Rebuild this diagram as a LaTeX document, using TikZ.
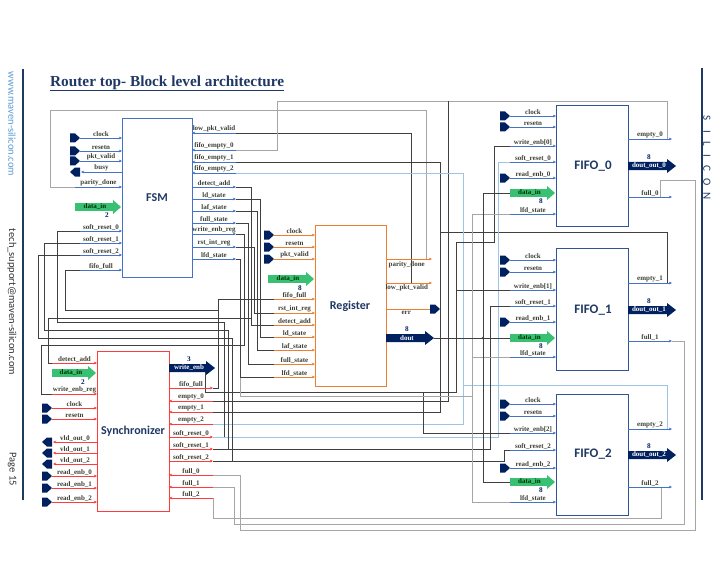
\documentclass[tikz,border=0pt]{standalone}
\usepackage{fontspec}
\setmainfont{Liberation Serif}
\newfontfamily\carl{Carlito}
\usetikzlibrary{arrows.meta}
\definecolor{navy}{HTML}{1F3864}
\definecolor{portc}{HTML}{002060}
\definecolor{fsmc}{HTML}{4472C4}
\definecolor{regc}{HTML}{ED7D31}
\definecolor{syncc}{HTML}{FF3B3B}
\definecolor{fifoc}{HTML}{2F5597}
\definecolor{fifol}{HTML}{4472C4}
\definecolor{wblk}{HTML}{404040}
\definecolor{wgry}{HTML}{A6A6A6}
\definecolor{wlb}{HTML}{9DC3E6}
\definecolor{lblc}{HTML}{3F3F35}
\definecolor{gfill}{HTML}{38C172}
\definecolor{linkc}{HTML}{5B9BD5}
\tikzset{
  lbl/.style={font=\fontsize{7}{8}\selectfont\bfseries, text=lblc, inner sep=0.7pt},
  numlbl/.style={font=\fontsize{7.2}{8}\selectfont\bfseries, text=portc, inner sep=0},
  stubln/.style={line width=0.6pt},
  tip/.style={-{Stealth[length=3.2pt,width=2.8pt]}},
  wire/.style={line width=0.5pt, draw=wblk},
  wireg/.style={line width=0.5pt, draw=wgry},
  wirelb/.style={line width=0.6pt, draw=wlb},
  blk/.style={line width=0.9pt, inner sep=0, anchor=north west},
  btitle/.style={font=\carl\bfseries\fontsize{12}{14}\selectfont, text=navy},
  ftitle/.style={font=\carl\bfseries\fontsize{13}{15}\selectfont, text=navy},
  side/.style={font=\carl\fontsize{10.5}{12}\selectfont, rotate=-90, inner sep=0},
}
\newcommand\stub[5]{\draw[#1,stubln,tip] (#2,#4) -- (#3,#4) node[midway,above,lbl]{#5};}
\newcommand\portR[2]{\fill[portc] (#1,#2-4.5) -- (#1+5,#2-4.5) -- (#1+10,#2) -- (#1+5,#2+4.5) -- (#1,#2+4.5) -- cycle;}
\newcommand\portL[2]{\fill[portc] (#1,#2-4.5) -- (#1-5,#2-4.5) -- (#1-10,#2) -- (#1-5,#2+4.5) -- (#1,#2+4.5) -- cycle;}
\newcommand\garrow[3]{\fill[gfill] (#1,#3-3.8) -- (#2-8,#3-3.8) -- (#2-8,#3-7) -- (#2,#3) -- (#2-8,#3+7) -- (#2-8,#3+3.8) -- (#1,#3+3.8) -- cycle;
  \node[lbl,text=black!80!green] at ({(#1+#2)/2-3},#3) {data\_in};}
\newcommand\barrow[5]{\fill[portc] (#1,#3-4) -- (#2-9,#3-4) -- (#2-9,#3-7) -- (#2,#3) -- (#2-9,#3+7) -- (#2-9,#3+4) -- (#1,#3+4) -- cycle;
  \node[lbl,text=white] at ({(#1+#2)/2-3},#3) {#4};
  \node[numlbl] at ({(#1+#2)/2-3},#3-9) {#5};}
\newcommand\nlab[3]{\node[numlbl] at (#1,#2) {#3};}
\begin{document}
\begin{tikzpicture}[x=1pt,y=-1pt]
\useasboundingbox[fill=white] (0,0) rectangle (711,564);

% page decorations
\draw[navy,line width=2.5pt] (23,69) -- (23,500);
\draw[navy,line width=2pt] (702,68) -- (702,500);
\node[side,text=linkc] (www) at (12,124) {www.maven-silicon.com};
\node[side,text=black!80] (tech) at (12,302) {tech\_support@maven-silicon.com};
\node[side,text=black!80] (page) at (12,469) {Page 15};
\foreach \l/\yy in {S/118,I/132,L/144,I/156,C/168,O/182,N/196}
  \node[font=\carl\fontsize{11}{12}\selectfont,text=navy,rotate=-90,inner sep=0] at (707,\yy) {\l};
\node[anchor=base west,font=\fontsize{15.3}{18}\selectfont\bfseries,text=navy,inner sep=0] (title) at (50,87) {Router top- Block level architecture};
\draw[navy,line width=0.8pt] (50,90.5) -- (title.east |- 0,90.5);

% ---------------- wires ----------------
\draw[wireg] (426,259) -- (426,110) -- (50,110) -- (50,187) -- (75,187);
\draw[wire] (411,283) -- (411,133) -- (236,133);
\draw[wireg] (667,139) -- (667,101) -- (277,101) -- (277,150) -- (236,150);
\draw[wire] (448,101) -- (448,401) -- (213,401);
\draw[wire] (667,283) -- (667,232) -- (440,232) -- (440,162) -- (236,162);
\draw[wire] (440,232) -- (440,412) -- (213,412);
\draw[wirelb] (667,429) -- (667,385) -- (463,385) -- (463,173) -- (236,173);
\draw[wirelb] (463,385) -- (463,424) -- (213,424);
\draw[wireg] (660,197) -- (660,180) -- (695,180) -- (695,530) -- (240,530) -- (240,475) -- (213,475);
\draw[wireg] (672,341) -- (684,341) -- (684,524) -- (234,524) -- (234,487) -- (213,487);
\draw[wireg] (661,487) -- (661,518) -- (213,518) -- (213,498);
\draw[wire] (213,388) -- (218,388) -- (218,299) -- (274,299);
\draw[wire] (218,310) -- (65,310) -- (65,270) -- (80,270);
\draw[wirelb] (213,437) -- (498,437) -- (498,162) -- (510,162);
\draw[wire] (224,437) -- (224,322) -- (57,322) -- (57,231) -- (80,231);
\draw[wire] (213,449) -- (490,449) -- (490,306) -- (510,306);
\draw[wire] (228,449) -- (228,330) -- (44,330) -- (44,243) -- (80,243);
\draw[wire] (213,461) -- (504,461) -- (504,450) -- (510,450);
\draw[wire] (232,461) -- (232,338) -- (38,338) -- (38,255) -- (80,255);
\draw[wire] (205,368) -- (205,392) -- (456,392) -- (456,290) -- (510,290);
\draw[wire] (423,392) -- (423,433) -- (510,433);
\draw[wire] (456,290) -- (456,242) -- (494,242) -- (494,146) -- (510,146);
\draw[wireg] (240,377) -- (240,396) -- (472,396) -- (472,214) -- (510,214);
\draw[wireg] (472,357) -- (510,357);
\draw[wireg] (472,396) -- (472,502) -- (510,502);
\draw[wire] (434,338) -- (510,338);
\draw[wire] (483,193) -- (510,193);
\draw[wire] (483,193) -- (483,482) -- (510,482);
\fill[wblk] (483,338) circle (1.4);
\draw[wire] (236,187) -- (251,187) -- (251,325) -- (274,325);
\draw[wire] (251,318) -- (48,318) -- (48,363) -- (52,363);
\draw[wire] (236,199) -- (260,199) -- (260,337) -- (274,337);
\draw[wire] (236,211) -- (257,211) -- (257,350) -- (274,350);
\draw[wire] (236,223) -- (248,223) -- (248,364) -- (274,364);
\draw[wire] (236,234) -- (244,234) -- (244,345) -- (41,345) -- (41,394) -- (52,394);
\draw[wire] (236,247) -- (254,247) -- (254,313) -- (274,313);
\draw[wire] (236,259) -- (240,259) -- (240,377) -- (274,377);

% ---------------- blocks ----------------
\node[blk,draw=fsmc,minimum width=70pt,minimum height=159pt] (fsm) at (122,118) {};
\node[btitle] (fsmt) at (157,198) {FSM};
\node[blk,draw=regc,minimum width=71pt,minimum height=161pt] (reg) at (315,225) {};
\node[btitle] (regt) at (350,306) {Register};
\node[blk,draw=syncc,line width=1.1pt,minimum width=72pt,minimum height=160pt] (sync) at (97,351) {};
\node[btitle] (synct) at (133,431) {Synchronizer};
\node[blk,draw=fifoc,minimum width=72pt,minimum height=121pt] (f0) at (556,105) {};
\node[ftitle] (f0t) at (593,166) {FIFO\_0};
\node[blk,draw=fifoc,minimum width=72pt,minimum height=122pt] (f1) at (556,248) {};
\node[ftitle] (f1t) at (593,310) {FIFO\_1};
\node[blk,draw=fifoc,minimum width=72pt,minimum height=121pt] (f2) at (556,394) {};
\node[ftitle] (f2t) at (593,454) {FIFO\_2};

% ---------------- FSM ports ----------------
\stub{fsmc}{80}{122}{138}{clock} \portR{70}{138}
\stub{fsmc}{80}{122}{151}{resetn} \portR{70}{151}
\stub{fsmc}{80}{122}{161}{pkt\_valid} \portR{70}{161}
\stub{fsmc}{122}{81}{172}{busy} \portL{80}{172}
\stub{fsmc}{75}{122}{187}{parity\_done}
\garrow{75}{121}{207} \nlab{107}{215}{2}
\stub{fsmc}{80}{122}{231}{soft\_reset\_0}
\stub{fsmc}{80}{122}{243}{soft\_reset\_1}
\stub{fsmc}{80}{122}{255}{soft\_reset\_2}
\stub{fsmc}{80}{122}{270}{fifo\_full}
\stub{fsmc}{236}{192}{133}{low\_pkt\_valid}
\stub{fsmc}{236}{192}{150}{fifo\_empty\_0}
\stub{fsmc}{236}{192}{162}{fifo\_empty\_1}
\stub{fsmc}{236}{192}{173}{fifo\_empty\_2}
\stub{fsmc}{192}{236}{187}{detect\_add}
\stub{fsmc}{192}{236}{199}{ld\_state}
\stub{fsmc}{192}{236}{211}{laf\_state}
\stub{fsmc}{192}{236}{223}{full\_state}
\stub{fsmc}{192}{236}{234}{write\_enb\_reg}
\stub{fsmc}{192}{236}{247}{rst\_int\_reg}
\stub{fsmc}{192}{236}{259}{lfd\_state}

% ---------------- Register ports ----------------
\stub{regc}{274}{315}{235}{clock} \portR{264}{235}
\stub{regc}{274}{315}{247}{resetn} \portR{264}{247}
\stub{regc}{274}{315}{259}{pkt\_valid} \portR{264}{259}
\garrow{268}{314}{279} \nlab{300}{288}{8}
\stub{regc}{274}{315}{299}{fifo\_full}
\stub{regc}{274}{315}{313}{rst\_int\_reg}
\stub{regc}{274}{315}{325}{detect\_add}
\stub{regc}{274}{315}{337}{ld\_state}
\stub{regc}{274}{315}{350}{laf\_state}
\stub{regc}{274}{315}{364}{full\_state}
\stub{regc}{274}{315}{377}{lfd\_state}
\draw[regc,stubln,tip] (386,259) -- (432,259) node[pos=0.45,below=2pt,lbl]{parity\_done};
\draw[regc,stubln,tip] (386,283) -- (432,283) node[pos=0.45,below=1pt,lbl]{low\_pkt\_valid};
\draw[regc,stubln] (386,309) -- (431,309) node[pos=0.45,below=1pt,lbl]{err};
\portR{430}{309}
\barrow{386}{434}{338}{dout}{8}

% ---------------- Synchronizer ports ----------------
\stub{syncc}{52}{97}{363}{detect\_add}
\garrow{52}{96}{373} \nlab{83}{382}{2}
\stub{syncc}{52}{97}{394}{write\_enb\_reg}
\stub{syncc}{52}{97}{408}{clock} \portR{42}{408}
\stub{syncc}{52}{97}{419}{resetn} \portR{42}{419}
\stub{syncc}{97}{53}{442}{vld\_out\_0} \portL{52}{442}
\stub{syncc}{97}{53}{453}{vld\_out\_1} \portL{52}{453}
\stub{syncc}{97}{53}{464}{vld\_out\_2} \portL{52}{464}
\stub{syncc}{52}{97}{476}{read\_enb\_0} \portR{42}{476}
\stub{syncc}{52}{97}{488}{read\_enb\_1} \portR{42}{488}
\stub{syncc}{52}{97}{502}{read\_enb\_2} \portR{42}{502}
\barrow{169}{215}{368}{write\_enb}{3}
\stub{syncc}{169}{213}{388}{fifo\_full}
\stub{syncc}{213}{169}{401}{empty\_0}
\stub{syncc}{213}{169}{412}{empty\_1}
\stub{syncc}{213}{169}{424}{empty\_2}
\stub{syncc}{169}{213}{437}{soft\_reset\_0}
\stub{syncc}{169}{213}{449}{soft\_reset\_1}
\stub{syncc}{169}{213}{461}{soft\_reset\_2}
\stub{syncc}{213}{169}{475}{full\_0}
\stub{syncc}{213}{169}{487}{full\_1}
\stub{syncc}{213}{169}{498}{full\_2}

% ---------------- FIFO_0 ----------------
\stub{fifol}{510}{556}{116}{clock} \portR{500}{116}
\stub{fifol}{510}{556}{127}{resetn} \portR{500}{127}
\stub{fifol}{510}{556}{146}{write\_enb[0]}
\stub{fifol}{510}{556}{162}{soft\_reset\_0}
\stub{fifol}{510}{556}{178}{read\_enb\_0} \portR{500}{178}
\garrow{510}{555}{193} \nlab{541}{201}{8}
\stub{fifol}{510}{556}{214}{lfd\_state}
\stub{fifol}{628}{672}{139}{empty\_0}
\barrow{628}{676}{166}{dout\_out\_0}{8}
\stub{fifol}{628}{672}{197}{full\_0}

% ---------------- FIFO_1 ----------------
\stub{fifol}{510}{556}{260}{clock} \portR{500}{260}
\stub{fifol}{510}{556}{272}{resetn} \portR{500}{272}
\stub{fifol}{510}{556}{290}{write\_enb[1]}
\stub{fifol}{510}{556}{306}{soft\_reset\_1}
\stub{fifol}{510}{556}{322}{read\_enb\_1} \portR{500}{322}
\garrow{510}{555}{338} \nlab{541}{346}{8}
\stub{fifol}{510}{556}{357}{lfd\_state}
\stub{fifol}{628}{672}{283}{empty\_1}
\barrow{628}{676}{310}{dout\_out\_1}{8}
\stub{fifol}{628}{672}{341}{full\_1}

% ---------------- FIFO_2 ----------------
\stub{fifol}{510}{556}{404}{clock} \portR{500}{404}
\stub{fifol}{510}{556}{416}{resetn} \portR{500}{416}
\stub{fifol}{510}{556}{433}{write\_enb[2]}
\stub{fifol}{510}{556}{450}{soft\_reset\_2}
\stub{fifol}{510}{556}{468}{read\_enb\_2} \portR{500}{468}
\garrow{510}{555}{482} \nlab{541}{490}{8}
\stub{fifol}{510}{556}{502}{lfd\_state}
\stub{fifol}{628}{672}{429}{empty\_2}
\barrow{628}{676}{455}{dout\_out\_2}{8}
\stub{fifol}{628}{672}{487}{full\_2}
\end{tikzpicture}
\end{document}
